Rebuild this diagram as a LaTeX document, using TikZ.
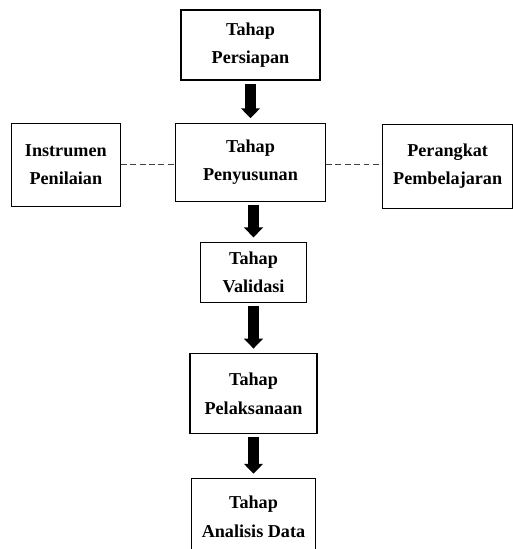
\documentclass[tikz,border=0pt]{standalone}
\usepackage{fontspec}
\setmainfont{Liberation Serif}
\usetikzlibrary{arrows.meta, positioning}

\begin{document}
\begin{tikzpicture}[node distance=1.3cm]
\tikzstyle{stage} = [rectangle, draw=black, line width=1pt, align=center, inner sep=2pt, font=\bfseries\fontsize{15.5}{24.5}\selectfont]
\tikzstyle{flow} = [line width=3.3mm, -{Triangle[length=3mm, width=5.6mm]}, shorten <=1mm, shorten >=1.3mm]
\tikzstyle{link} = [black!75, line width=0.6pt, dash pattern=on 5pt off 3pt]

\clip (-7.515,1.35) rectangle (7.875,-15.12);

% Main stages
\node (prep) [stage, minimum width=4.17cm, minimum height=2.1cm] {Tahap\\Persiapan};
\node (comp) [stage, minimum width=4.5cm, minimum height=2.34cm, below=1.26cm of prep] {Tahap\\Penyusunan};
\node (valid) [stage, minimum width=3.18cm, minimum height=1.8cm, below=1.2cm of comp, xshift=0.09cm] {Tahap\\Validasi};
\node (exec) [stage, minimum width=3.81cm, minimum height=2.4cm, below=1.5cm of valid] {Tahap\\Pelaksanaan};
\node (anal) [stage, minimum width=3.72cm, minimum height=2.3cm, below=1.32cm of exec] {Tahap\\Analisis Data};

% Products of the compiling stage
\node (instr) [stage, minimum width=3.27cm, minimum height=2.49cm, left=1.62cm of comp, yshift=-0.075cm] {Instrumen\\Penilaian};
\node (tools) [stage, minimum width=3.9cm, minimum height=2.52cm, right=1.68cm of comp, yshift=-0.12cm] {Perangkat\\Pembelajaran};

% Flow between stages
\foreach \from/\to in {prep/comp, comp/valid, valid/exec, exec/anal} {
    \draw[flow] (\to.north |- \from.south) -- (\to.north);
}

% Dashed links
\draw[link] (instr.east) -- (instr.east -| comp.west);
\draw[link] (comp.east |- instr.east) -- (comp.east |- instr.east -| tools.west);

\end{tikzpicture}
\end{document}
